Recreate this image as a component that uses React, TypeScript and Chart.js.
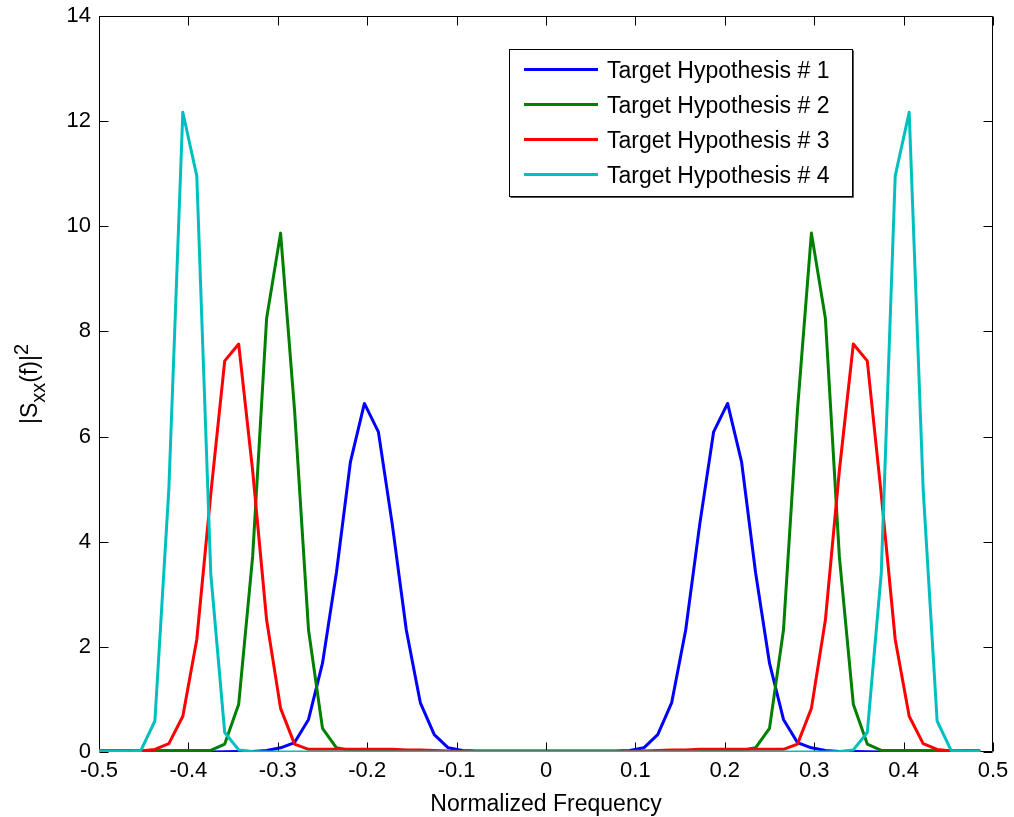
import React, { useEffect, useRef } from "react";
import { Chart, registerables } from "chart.js";

Chart.register(...registerables);

// FFT bin grid: 64 bins from -0.5 to 0.5 - 1/64
const N_BINS = 64;
const frequencies: number[] = Array.from({ length: N_BINS }, (_, k) => -0.5 + k / N_BINS);

const seriesNames = [
  "Target Hypothesis # 1",
  "Target Hypothesis # 2",
  "Target Hypothesis # 3",
  "Target Hypothesis # 4",
];
const seriesColors = ["#0000FF", "#008000", "#FF0000", "#00BFBF"];

const hyp1 = [
  0, 0, 0, 0, 0, 0, 0, 0, 0, 0.005, 0.01,
  0.01, 0.03, 0.08, 0.18, 0.62, 1.69, 3.42, 5.52, 6.63, 6.09, 4.32, 2.32, 0.94, 0.33, 0.08, 0.03,
  0.02, 0.02, 0.02, 0.02, 0.02, 0.02, 0.02, 0.02, 0.02, 0.02, 0.02,
  0.03, 0.08, 0.33, 0.94, 2.32, 4.32, 6.09, 6.63, 5.52, 3.42, 1.69, 0.62, 0.18, 0.08, 0.03, 0.01, 0.01, 0.005,
  0, 0, 0, 0, 0, 0, 0, 0,
];
const hyp2 = [
  0.03, 0.03, 0.03, 0.03, 0.03, 0.03, 0.03, 0.03, 0.03,
  0.15, 0.91, 3.72, 8.25, 9.87, 6.5, 2.32, 0.45, 0.08, 0.03, 0.02, 0.02,
  0.01, 0.01, 0.01, 0.01, 0.01, 0.01, 0.01, 0.01, 0.01, 0.01, 0.01, 0.01,
  0.01, 0.01, 0.01, 0.01, 0.01, 0.01, 0.01, 0.01, 0.01, 0.01, 0.01,
  0.02, 0.02, 0.03, 0.08, 0.45, 2.32, 6.5, 9.87, 8.25, 3.72, 0.91, 0.15,
  0.03, 0.03, 0.03, 0.03, 0.03, 0.03, 0.03, 0.03,
];
const hyp3 = [
  0.02, 0.02, 0.02, 0.02,
  0.05, 0.16, 0.68, 2.14, 4.9, 7.44, 7.76, 5.35, 2.51, 0.83, 0.15, 0.05, 0.05, 0.05, 0.05, 0.05, 0.05, 0.05, 0.04, 0.04, 0.03, 0.02, 0.01,
  0, 0, 0, 0, 0, 0, 0, 0, 0, 0, 0,
  0.01, 0.02, 0.03, 0.04, 0.04, 0.05, 0.05, 0.05, 0.05, 0.05, 0.05, 0.05, 0.15, 0.83, 2.51, 5.35, 7.76, 7.44, 4.9, 2.14, 0.68, 0.16, 0.05,
  0.02, 0.02, 0.02,
];
const hyp4 = [
  0.02, 0.02, 0.02,
  0.03, 0.59, 5.0, 12.17, 10.96, 3.4, 0.37, 0.04, 0.01,
  0, 0, 0, 0, 0, 0, 0, 0, 0, 0, 0, 0, 0, 0, 0, 0, 0, 0, 0, 0,
  0, 0, 0, 0, 0, 0, 0, 0, 0, 0, 0, 0, 0, 0, 0, 0, 0, 0, 0, 0, 0,
  0.01, 0.04, 0.37, 3.4, 10.96, 12.17, 5.0, 0.59, 0.03, 0.02, 0.02,
];
const seriesValues = [hyp1, hyp2, hyp3, hyp4];

const xTickValues = [-0.5, -0.4, -0.3, -0.2, -0.1, 0, 0.1, 0.2, 0.3, 0.4, 0.5];
const yTickValues = [0, 2, 4, 6, 8, 10, 12, 14];

const FONT = "'Liberation Sans', Arial, Helvetica, sans-serif";

const boxPlugin = {
  id: "matlabBox",
  beforeDatasetsDraw(chart: any) {
    const { ctx, chartArea: a, scales } = chart;
    const L = Math.round(a.left) + 0.5;
    const R = Math.round(a.right) - 0.5;
    const T = Math.round(a.top) + 0.5;
    const B = Math.round(a.bottom) - 0.5;
    const tl = 9;
    ctx.save();
    ctx.strokeStyle = "#000";
    ctx.lineWidth = 1;
    ctx.beginPath();
    ctx.rect(L, T, R - L, B - T);
    xTickValues.forEach((v) => {
      const px = Math.round(scales.x.getPixelForValue(v)) + 0.5;
      ctx.moveTo(px, B);
      ctx.lineTo(px, B - tl);
      ctx.moveTo(px, T);
      ctx.lineTo(px, T + tl);
    });
    yTickValues.forEach((v) => {
      const py = Math.round(scales.y.getPixelForValue(v)) + 0.5;
      ctx.moveTo(L, py);
      ctx.lineTo(L + tl, py);
      ctx.moveTo(R, py);
      ctx.lineTo(R - tl, py);
    });
    ctx.stroke();
    ctx.restore();
  },
};

const overlayPlugin = {
  id: "overlay",
  afterDraw(chart: any) {
    const { ctx, chartArea: a } = chart;
    ctx.save();
    // Legend box
    const bx = 509.5, by = 49.5, bw = 343, bh = 147;
    ctx.fillStyle = "#fff";
    ctx.fillRect(bx, by, bw, bh);
    ctx.strokeStyle = "#000";
    ctx.lineWidth = 1;
    ctx.strokeRect(bx, by, bw, bh);
    ctx.strokeStyle = "#555";
    ctx.beginPath();
    ctx.moveTo(bx + bw + 1, by + 1);
    ctx.lineTo(bx + bw + 1, by + bh + 1);
    ctx.lineTo(bx + 1, by + bh + 1);
    ctx.stroke();
    ctx.font = `23px ${FONT}`;
    ctx.textAlign = "left";
    ctx.textBaseline = "alphabetic";
    seriesNames.forEach((name, i) => {
      const ly = 69.5 + i * 35;
      ctx.strokeStyle = seriesColors[i];
      ctx.lineWidth = 3;
      ctx.beginPath();
      ctx.moveTo(524, ly);
      ctx.lineTo(598, ly);
      ctx.stroke();
      ctx.fillStyle = "#000";
      ctx.fillText(name, 607, ly + 8.2);
    });

    // Y axis label |S_xx(f)|^2
    const big = `23px ${FONT}`;
    const small = `20px ${FONT}`;
    const parts = [
      { t: "|S", f: big, dy: 0 },
      { t: "xx", f: small, dy: 8 },
      { t: "(f)|", f: big, dy: 0 },
      { t: "2", f: small, dy: -9 },
    ];
    let total = 0;
    parts.forEach((p) => {
      ctx.font = p.f;
      total += ctx.measureText(p.t).width;
    });
    const cy = (a.top + a.bottom) / 2;
    ctx.translate(37, cy + total / 2);
    ctx.rotate(-Math.PI / 2);
    ctx.fillStyle = "#000";
    let x = 0;
    parts.forEach((p) => {
      ctx.font = p.f;
      ctx.fillText(p.t, x, p.dy);
      x += ctx.measureText(p.t).width;
    });
    ctx.restore();
  },
};

export default function App() {
  const canvasRef = useRef<HTMLCanvasElement | null>(null);

  useEffect(() => {
    const canvas = canvasRef.current;
    if (!canvas) return;
    Chart.defaults.font.family = FONT;
    const chart = new Chart(canvas, {
      type: "line",
      data: {
        datasets: seriesNames.map((name, i) => ({
          label: name,
          data: frequencies.map((f, k) => ({ x: f, y: seriesValues[i][k] })),
          borderColor: seriesColors[i],
          backgroundColor: seriesColors[i],
          borderWidth: 3,
          borderJoinStyle: "round" as const,
          borderCapStyle: "round" as const,
          pointRadius: 0,
          fill: false,
          tension: 0,
          order: seriesNames.length - i,
        })),
      },
      options: {
        animation: false,
        responsive: false,
        events: [],
        layout: { padding: { top: 16, right: 21, left: 0, bottom: 0 } },
        plugins: { legend: { display: false }, tooltip: { enabled: false } },
        scales: {
          x: {
            type: "linear",
            min: -0.5,
            max: 0.5,
            afterFit: (s: any) => {
              s.height = 65;
              s.paddingLeft = 0;
              s.paddingRight = 0;
            },
            afterBuildTicks: (s: any) => {
              s.ticks = xTickValues.map((v) => ({ value: v }));
            },
            ticks: {
              autoSkip: false,
              maxRotation: 0,
              padding: 6,
              color: "#000",
              font: { size: 22, family: FONT },
              callback: (v: any) => {
                const r = Math.round(Number(v) * 10) / 10;
                return r === 0 ? "0" : String(r);
              },
            },
            grid: { display: false, drawTicks: false },
            border: { display: false },
            title: {
              display: true,
              text: "Normalized Frequency",
              color: "#000",
              font: { size: 23, family: FONT },
              padding: { top: 0, bottom: -1 },
            },
          },
          y: {
            type: "linear",
            min: 0,
            max: 14,
            afterFit: (s: any) => {
              s.width = 99;
              s.paddingTop = 0;
              s.paddingBottom = 0;
            },
            afterBuildTicks: (s: any) => {
              s.ticks = yTickValues.map((v) => ({ value: v }));
            },
            ticks: {
              padding: 8,
              color: "#000",
              font: { size: 22, family: FONT },
              callback: (v: any) => String(v),
            },
            grid: { display: false, drawTicks: false },
            border: { display: false },
          },
        },
      },
      plugins: [boxPlugin, overlayPlugin],
    });
    return () => chart.destroy();
  }, []);

  return (
    <div style={{ position: "fixed", left: 0, top: 0, width: 1014, height: 817, background: "#fff" }}>
      <canvas ref={canvasRef} width={1014} height={817} style={{ width: 1014, height: 817, display: "block" }} />
    </div>
  );
}
